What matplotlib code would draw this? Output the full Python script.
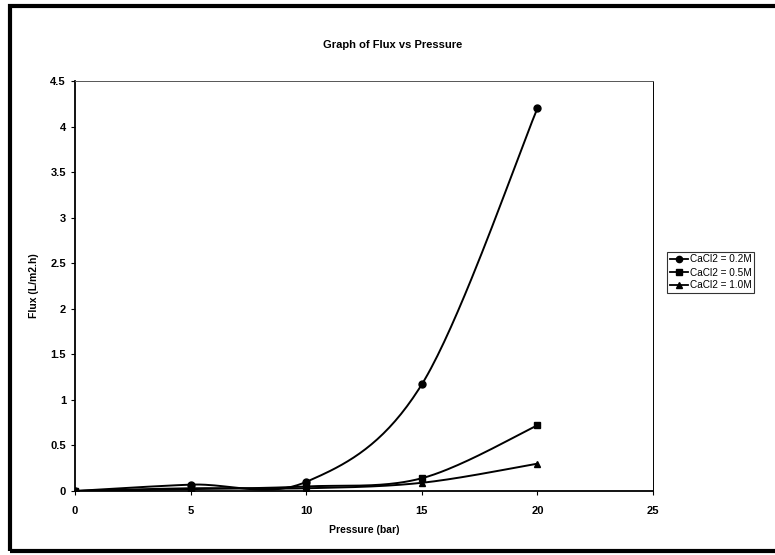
import numpy as np
import matplotlib
matplotlib.use('Agg')
import matplotlib.pyplot as plt
from matplotlib.lines import Line2D
from matplotlib.patches import Rectangle

plt.rcParams['font.family'] = ['Liberation Sans', 'DejaVu Sans']

# pressure (bar) and flux (L/m2.h) for each CaCl2 concentration
pressure = [0, 5, 10, 15, 20]
flux_02 = [0, 0.07, 0.1, 1.17, 4.2]
flux_05 = [0, 0.02, 0.05, 0.14, 0.72]
flux_10 = [0, 0.03, 0.03, 0.09, 0.3]
labels = ['CaCl2 = 0.2M', 'CaCl2 = 0.5M', 'CaCl2 = 1.0M']
markers = ['o', 's', '^']


def smooth(x, y, n=40):
    # Catmull-Rom curve through the points, like a spreadsheet "smoothed line"
    x = np.asarray(x, float)
    y = np.asarray(y, float)
    px = np.concatenate([[x[0]], x, [x[-1]]])
    py = np.concatenate([[y[0]], y, [y[-1]]])
    xs, ys = [], []
    t = np.linspace(0, 1, n)
    for i in range(1, len(px) - 2):
        for p, out in ((px, xs), (py, ys)):
            p0, p1, p2, p3 = p[i - 1], p[i], p[i + 1], p[i + 2]
            c1 = p1 + (p2 - p0) / 6
            c2 = p2 - (p3 - p1) / 6
            out.extend((1 - t) ** 3 * p1 + 3 * (1 - t) ** 2 * t * c1
                       + 3 * (1 - t) * t ** 2 * c2 + t ** 3 * p2)
    return np.array(xs), np.array(ys)


fig = plt.figure(figsize=(7.75, 5.55), dpi=100)
ax = fig.add_axes([75 / 775, 1 - 491 / 555, (653 - 75) / 775, (491 - 81) / 555])

for ys, m in zip([flux_02, flux_05, flux_10], markers):
    sx, sy = smooth(pressure, ys)
    ax.plot(sx, sy, color='black', lw=1.4, zorder=3)
    ax.plot(pressure, ys, ls='none', marker=m, color='black', ms=5, zorder=4)

ax.set_xlim(0, 25)
ax.set_ylim(0, 4.5)
ax.set_xticks([0, 5, 10, 15, 20, 25])
ax.set_yticks(np.arange(0, 4.51, 0.5))
ax.set_yticklabels(['0', '0.5', '1', '1.5', '2', '2.5', '3', '3.5', '4', '4.5'])
ax.tick_params(labelsize=8, length=3, width=0.8, color='black')
for lab in ax.get_xticklabels() + ax.get_yticklabels():
    lab.set_fontweight('bold')
ax.tick_params(axis='x', pad=8)

ax.spines['left'].set_linewidth(1.3)
ax.spines['bottom'].set_linewidth(1.3)
ax.spines['top'].set_linewidth(0.7)
ax.spines['right'].set_linewidth(0.7)
ax.spines['top'].set_linestyle((0, (2, 1)))
ax.spines['top'].set_color('#555555')

ax.set_xlabel('Pressure (bar)', fontsize=7.5, fontweight='bold', labelpad=6)
ax.set_ylabel('Flux (L/m2.h)', fontsize=7.5, fontweight='bold', labelpad=8)
fig.text(393 / 775, 1 - 45 / 555, 'Graph of Flux vs Pressure', ha='center', va='center',
         fontsize=8, fontweight='bold')

handles = [Line2D([], [], color='black', lw=1.3, marker=m, ms=4.5) for m in markers]
leg = fig.legend(handles, labels, loc='upper left',
                 bbox_to_anchor=(667 / 775, 1 - 252 / 555),
                 fontsize=7.2, frameon=True, fancybox=False, handlelength=1.8,
                 handletextpad=0.2, borderpad=0.25, labelspacing=0.3, borderaxespad=0)
leg.get_frame().set_edgecolor('black')
leg.get_frame().set_linewidth(0.8)

# outer chart border
fig.add_artist(Rectangle((10 / 775, 1 - 551 / 555), 1.0, (551 - 6) / 555,
                         transform=fig.transFigure, fill=False, lw=3, ec='black'))

fig.savefig('out.png', dpi=100)
